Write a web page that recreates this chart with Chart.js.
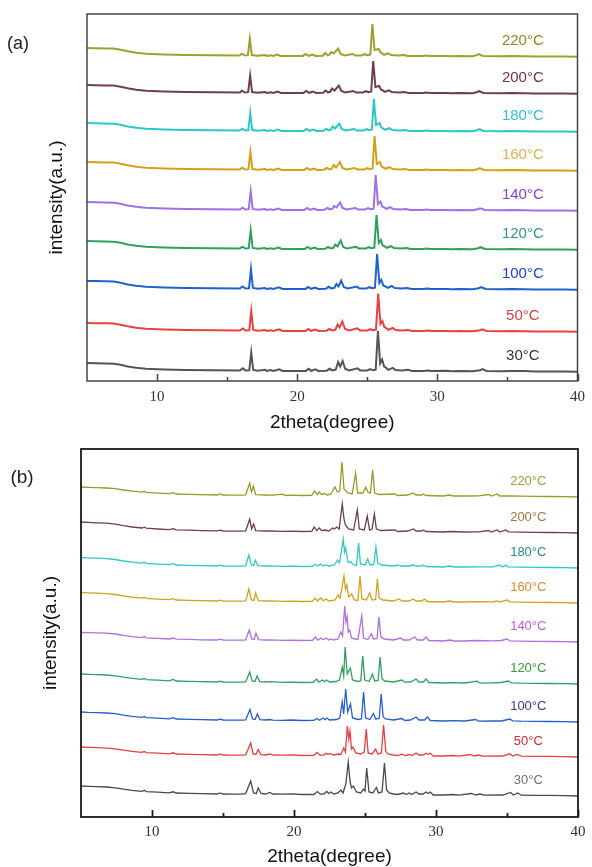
<!DOCTYPE html>
<html>
<head>
<meta charset="utf-8">
<script src="https://cdn.jsdelivr.net/npm/chart.js@4.4.0/dist/chart.umd.min.js"></script>
<style>
  html, body { margin: 0; padding: 0; background: #fff; }
  #wrapA { position: absolute; left: 0; top: 0; width: 592px; height: 440px; }
  #wrapB { position: absolute; left: 0; top: 440px; width: 592px; height: 427px; }
</style>
</head>
<body>
<div id="wrapA"><canvas id="chartA" width="592" height="440"></canvas></div>
<div id="wrapB"><canvas id="chartB" width="592" height="427"></canvas></div>
<script>
// axis ticks
const xTickValues = [10, 20, 30, 40];
const xMinorValues = [15, 25, 35];
const tempLabels = ['30°C', '50°C', '100°C', '120°C', '140°C', '160°C', '180°C', '200°C', '220°C'];

// vertical stacking offsets of each pattern (a.u.)
const offsetsA = [9, 49, 91, 131, 170, 210, 249, 287, 324];
const offsetsB = [21, 60, 95, 133, 175, 214, 249, 284, 320];

// panel (a) patterns: [2theta, intensity]
const patternA30 = [[5,9],[5.6,8.8],[6.3,8.6],[6.9,8.3],[7.4,7.2],[7.9,5.6],[8.5,4.2],[9.2,3.2],[10.5,2.6],[12,2.1],[14,1.7],[15.9,1.4],
  [16.12,3.8],[16.3,1.5],[16.58,1.8],[16.72,19.5],[16.86,2],[17.2,1.2],[17.7,2.2],[17.85,1.1],[18.1,1.9],[18.3,1],[18.72,2.6],[18.95,1.1],[19.8,0.9],[20.6,1.1],[20.82,3.2],[21,1.2],[21.3,2.6],[21.5,1.1],[22.1,1.3],[22.32,3.2],[22.5,1.6],[22.75,2.4],[22.92,10],[23.07,5.5],[23.24,11],[23.42,3.2],[23.7,1.6],[24.32,3.6],[24.5,1.4],[25,1.6],[25.2,3],[25.4,1.7],[25.6,2.4],[25.76,41],[25.92,8.5],[26.06,12.5],[26.2,5.5],[26.32,4.5],[26.5,2.2],[26.82,4.2],[27,2],[27.5,1.6],[27.9,2.2],[28.2,1.1],[29,0.9],[29.3,1.6],[29.6,0.9],[30.7,1.2],[31,0.8],[31.6,1.1],[32.5,0.8],[33.05,1.8],[33.22,2.8],[33.5,1],[34.5,0.7],[35.3,1.1],[36.2,0.9],[37,0.6],[38,0.6],[39,0.4],[40,0.3]];
const patternA50 = [[5,9],[5.6,8.8],[6.3,8.7],[6.9,8.4],[7.4,7.3],[7.9,5.7],[8.5,4.3],[9.2,3.2],[10.5,2.6],[12,2.1],[14,1.7],[15.9,1.4],
  [16.12,3.6],[16.3,1.5],[16.58,1.8],[16.72,21],[16.86,2],[17.2,1.2],[17.7,2],[17.85,1.1],[18.1,1.8],[18.3,1],[18.72,2.6],[18.95,1.1],[19.8,0.9],[20.6,1.1],[20.8,3],[21,1.2],[21.3,2.5],[21.5,1.1],[22.1,1.3],[22.3,3],[22.5,1.6],[22.72,2.2],[22.88,7.5],[23.02,4.5],[23.22,10.5],[23.4,3.2],[23.7,1.6],[24.3,3.6],[24.5,1.4],[25,1.6],[25.2,2.8],[25.4,1.7],[25.62,2.4],[25.78,38.5],[25.94,8],[26.08,11],[26.22,5],[26.34,4],[26.5,2.2],[26.82,4],[27,2],[27.5,1.6],[27.9,2],[28.2,1.1],[29,0.9],[29.3,1.5],[29.6,0.9],[30.7,1.1],[31,0.8],[31.6,1],[32.5,0.8],[33.05,1.8],[33.2,2.6],[33.5,1],[34.5,0.7],[35.3,1],[36.2,0.8],[37,0.6],[38,0.5],[39,0.4],[40,0.3]];
const patternA100 = [[5,9],[5.6,8.9],[6.3,8.7],[6.9,8.4],[7.4,7.2],[7.9,5.6],[8.5,4.2],[9.2,3.2],[10.5,2.6],[12,2.1],[14,1.7],[15.9,1.4],
  [16.1,3.6],[16.3,1.5],[16.56,1.8],[16.7,21],[16.84,2],[17.2,1.2],[17.7,2],[17.85,1.1],[18.1,1.8],[18.3,1],[18.7,2.6],[18.95,1.1],[19.8,0.9],[20.6,1.1],[20.78,3],[21,1.2],[21.28,2.5],[21.5,1.1],[22.05,1.3],[22.25,3.2],[22.45,1.6],[22.65,2.2],[22.8,6],[22.95,3.5],[23.14,9.5],[23.32,3],[23.6,1.6],[24.25,3.4],[24.45,1.4],[24.95,1.6],[25.15,2.8],[25.35,1.7],[25.55,2.4],[25.7,36],[25.86,7],[26,10],[26.14,4.5],[26.28,3.6],[26.45,2.2],[26.75,4],[26.95,2],[27.45,1.6],[27.85,2],[28.15,1.1],[29,0.9],[29.25,1.5],[29.55,0.9],[30.7,1.1],[31,0.8],[31.6,1],[32.5,0.8],[32.95,1.8],[33.12,2.8],[33.45,1],[34.5,0.7],[35.3,1],[36.2,0.8],[37,0.6],[38,0.5],[39,0.4],[40,0.3]];
const patternA120 = [[5,9],[5.6,8.8],[6.3,8.6],[6.9,8.3],[7.4,7.2],[7.9,5.6],[8.5,4.2],[9.2,3.2],[10.5,2.6],[12,2.1],[14,1.7],[15.9,1.4],
  [16.1,3.4],[16.3,1.5],[16.54,1.8],[16.68,19.5],[16.82,2],[17.2,1.2],[17.7,2],[17.85,1.1],[18.1,1.8],[18.3,1],[18.68,2.5],[18.9,1.1],[19.8,0.9],[20.55,1.1],[20.75,3],[20.95,1.2],[21.25,2.4],[21.45,1.1],[22,1.3],[22.2,3],[22.4,1.6],[22.58,2.2],[22.72,5.5],[22.88,3.5],[23.1,9.5],[23.28,3],[23.55,1.6],[24.2,3.2],[24.4,1.4],[24.9,1.6],[25.1,2.8],[25.3,1.7],[25.5,2.4],[25.66,35],[25.82,7],[25.97,10],[26.1,4.5],[26.24,3.6],[26.4,2.2],[26.7,3.8],[26.9,2],[27.4,1.6],[27.8,2],[28.1,1.1],[29,0.9],[29.2,1.5],[29.5,0.9],[30.7,1.1],[31,0.8],[31.6,1],[32.5,0.8],[32.9,1.8],[33.08,2.8],[33.4,1],[34.5,0.7],[35.3,1],[36.2,0.8],[37,0.6],[38,0.5],[39,0.4],[40,0.3]];
const patternA140 = [[5,9],[5.6,8.8],[6.3,8.6],[6.9,8.3],[7.4,7.2],[7.9,5.6],[8.5,4.2],[9.2,3.2],[10.5,2.6],[12,2.1],[14,1.7],[15.9,1.4],
  [16.1,3.4],[16.3,1.5],[16.54,1.8],[16.68,19.5],[16.82,2],[17.2,1.2],[17.7,2],[17.85,1.1],[18.1,1.8],[18.3,1],[18.66,2.5],[18.9,1.1],[19.8,0.9],[20.5,1.1],[20.72,3],[20.92,1.2],[21.22,2.4],[21.42,1.1],[21.95,1.3],[22.15,3],[22.35,1.6],[22.5,2.2],[22.63,5],[22.8,3.5],[23.05,8.5],[23.24,3],[23.5,1.6],[24.15,3],[24.35,1.4],[24.85,1.6],[25.05,2.8],[25.25,1.7],[25.45,2.4],[25.6,36],[25.76,7],[25.94,9.5],[26.06,4.5],[26.2,3.6],[26.35,2.2],[26.65,3.8],[26.85,2],[27.35,1.6],[27.75,2],[28.05,1.1],[29,0.9],[29.2,1.5],[29.5,0.9],[30.7,1.1],[31,0.8],[31.6,1],[32.5,0.8],[32.88,1.8],[33.05,2.8],[33.4,1],[34.5,0.7],[35.3,1],[36.2,0.8],[37,0.6],[38,0.5],[39,0.4],[40,0.3]];
const patternA160 = [[5,9],[5.6,8.8],[6.3,8.6],[6.9,8.4],[7.4,7.3],[7.9,5.7],[8.5,4.3],[9.2,3.2],[10.5,2.6],[12,2.1],[14,1.7],[15.9,1.4],
  [16.08,3.4],[16.28,1.5],[16.52,1.8],[16.66,19],[16.8,2],[17.2,1.2],[17.7,2],[17.85,1.1],[18.1,1.8],[18.3,1],[18.64,2.5],[18.88,1.1],[19.8,0.9],[20.5,1.1],[20.7,3],[20.9,1.2],[21.2,2.4],[21.4,1.1],[21.9,1.3],[22.12,3],[22.32,1.6],[22.47,2.4],[22.6,6],[22.78,3.5],[23.04,9],[23.22,3],[23.5,1.6],[24.1,3],[24.3,1.4],[24.8,1.6],[25,2.8],[25.2,1.7],[25.38,2.4],[25.52,35],[25.68,7],[25.9,9],[26.02,4.5],[26.15,3.6],[26.3,2.2],[26.6,3.8],[26.8,2],[27.3,1.6],[27.7,2],[28,1.1],[29,0.9],[29.2,1.5],[29.5,0.9],[30.7,1.1],[31,0.8],[31.6,1],[32.5,0.8],[32.85,1.8],[33.02,2.8],[33.35,1],[34.5,0.7],[35.3,1],[36.2,0.8],[37,0.6],[38,0.5],[39,0.4],[40,0.3]];
const patternA180 = [[5,9],[5.6,8.8],[6.3,8.6],[6.9,8.3],[7.4,7.2],[7.9,5.6],[8.5,4.2],[9.2,3.2],[10.5,2.6],[12,2.1],[14,1.7],[15.9,1.4],
  [16.08,3.3],[16.28,1.5],[16.51,1.8],[16.65,19],[16.79,2],[17.2,1.2],[17.7,2],[17.85,1.1],[18.1,1.8],[18.3,1],[18.62,2.4],[18.86,1.1],[19.8,0.9],[20.45,1.1],[20.66,3],[20.86,1.2],[21.16,2.4],[21.36,1.1],[21.88,1.3],[22.08,3],[22.28,1.6],[22.4,2.2],[22.52,5.5],[22.7,3.5],[23,8.5],[23.18,3],[23.45,1.6],[24.05,3],[24.25,1.4],[24.75,1.6],[24.95,2.8],[25.15,1.7],[25.33,2.4],[25.47,33],[25.63,7],[25.88,9],[26,4.5],[26.12,3.6],[26.28,2.2],[26.58,3.8],[26.78,2],[27.3,1.6],[27.7,2],[28,1.1],[29,0.9],[29.2,1.5],[29.5,0.9],[30.7,1.1],[31,0.8],[31.6,1],[32.5,0.8],[32.82,1.8],[33,2.8],[33.3,1],[34.5,0.7],[35.3,1],[36.2,0.8],[37,0.6],[38,0.5],[39,0.4],[40,0.3]];
const patternA200 = [[5,9],[5.6,8.8],[6.3,8.6],[6.9,8.4],[7.4,7.3],[7.9,5.7],[8.5,4.3],[9.2,3.2],[10.5,2.6],[12,2.1],[14,1.7],[15.9,1.4],
  [16.06,3.3],[16.26,1.5],[16.5,1.8],[16.64,18.5],[16.78,2],[17.2,1.2],[17.7,2],[17.85,1.1],[18.1,1.8],[18.3,1],[18.6,2.4],[18.84,1.1],[19.8,0.9],[20.45,1.1],[20.64,3],[20.84,1.2],[21.14,2.4],[21.34,1.1],[21.85,1.3],[22.02,3.4],[22.2,1.6],[22.35,2.2],[22.48,5.5],[22.66,3.5],[22.97,8.5],[23.15,3],[23.42,1.6],[24,3],[24.2,1.4],[24.7,1.6],[24.9,2.8],[25.1,1.7],[25.28,2.4],[25.42,33],[25.58,7],[25.85,8],[25.97,4.5],[26.1,3.6],[26.25,2.2],[26.55,3.6],[26.75,2],[27.25,1.6],[27.65,2],[27.95,1.1],[29,0.9],[29.2,1.5],[29.5,0.9],[30.7,1.1],[31,0.8],[31.6,1],[32.5,0.8],[32.8,1.8],[32.98,2.8],[33.3,1],[34.5,0.7],[35.3,1],[36.2,0.8],[37,0.6],[38,0.5],[39,0.4],[40,0.3]];
const patternA220 = [[5,9],[5.6,8.8],[6.3,8.6],[6.9,8.4],[7.4,7.3],[7.9,5.7],[8.5,4.3],[9.2,3.2],[10.5,2.6],[12,2.1],[14,1.7],[15.9,1.4],
  [16.06,3.3],[16.26,1.5],[16.48,1.8],[16.62,18.5],[16.76,2],[17.2,1.2],[17.7,2],[17.85,1.1],[18.1,1.8],[18.3,1],[18.58,2.4],[18.82,1.1],[19.8,0.9],[20.4,1.1],[20.6,3],[20.8,1.2],[21.1,2.4],[21.3,1.1],[21.82,1.3],[22,4],[22.18,1.6],[22.3,2.2],[22.42,5],[22.6,3.5],[22.92,8.5],[23.1,3],[23.38,1.6],[23.95,3],[24.15,1.4],[24.6,1.6],[24.8,2.8],[25,1.7],[25.22,2.4],[25.36,33],[25.52,7],[25.82,8],[25.94,4.5],[26.06,3.6],[26.2,2.2],[26.5,3.6],[26.7,2],[27.2,1.6],[27.6,2],[27.9,1.1],[29,0.9],[29.2,1.5],[29.5,0.9],[30.7,1.1],[31,0.8],[31.6,1],[32.5,0.8],[32.78,1.8],[32.95,2.8],[33.25,1],[34.5,0.7],[35.3,1],[36.2,0.8],[37,0.6],[38,0.5],[39,0.4],[40,0.3]];

// panel (b) patterns: [2theta, intensity]
const patternB30 = [[5,10],[5.5,9.6],[6.1,9.3],[6.8,9],[7.4,8.2],[8,6.8],[8.6,5.6],[9.3,4.6],[9.45,5.8],[9.6,4.4],[10.4,3.8],[11.2,3.2],[11.5,4.2],[11.7,3],[12.6,2.7],[13.5,2.3],[14.6,2],[14.8,3],[15,2],[15.6,1.8],[16.3,1.8],[16.6,2.4],
  [16.95,15],[17.15,3],[17.35,2.5],[17.48,8],[17.68,2.5],[18,2],[18.3,3.5],[18.5,2],[19.2,1.8],[19.9,2.2],[20.5,1.5],[21.4,1.5],[21.65,4.5],[21.85,1.8],[22.1,2],[22.3,4.5],[22.45,2.5],[22.6,4],[22.8,2],[23.1,3],[23.3,6],[23.45,3],[23.65,12],[23.82,34],[23.95,14],[24.05,8],[24.18,10],[24.4,4],[24.7,3],[24.9,7],[25,5],[25.12,28],[25.28,4],[25.55,3],[25.8,8.5],[25.95,3],[26.2,4],[26.37,33],[26.52,6],[26.7,3],[27,2],[27.3,1.5],[27.7,3],[27.9,1.5],[28.1,3],[28.3,1.5],[28.6,4],[28.8,2],[29.1,2],[29.3,4],[29.45,2.5],[29.6,4],[29.8,1],[30.5,1],[31.2,1.5],[31.6,0.8],[32.5,2.5],[32.8,1],[33.1,2],[33.4,0.8],[34.7,1],[35.25,3.5],[35.45,1],[35.75,3],[36,0.8],[37,0.6],[38,0.6],[39,0.4],[40,0]];
const patternB50 = [[5,10],[5.5,9.7],[6.1,9.3],[6.8,8.9],[7.4,8.2],[8,6.9],[8.6,5.6],[9.3,4.6],[9.45,5.6],[9.6,4.4],[10.4,3.8],[11.2,3.2],[11.5,4.2],[11.7,3],[12.6,2.7],[13.5,2.3],[14.6,2],[14.8,3],[15,2],[15.6,1.8],[16.3,1.8],[16.6,2.2],
  [16.95,14],[17.12,3],[17.32,2.5],[17.48,7.5],[17.66,2.4],[18,2],[18.3,3],[18.5,2],[19.2,1.8],[19.9,2.2],[20.5,1.5],[21.4,1.6],[21.62,4.5],[21.82,1.8],[22.1,2],[22.25,3.8],[22.4,2.4],[22.55,3.5],[22.8,2],[23.15,3],[23.3,2.5],[23.5,9],[23.62,5],[23.76,31],[23.86,18],[23.94,26],[24.05,8],[24.16,10],[24.35,4],[24.7,3],[24.95,5],[25.09,28],[25.22,4],[25.5,3],[25.75,8],[25.9,3],[26.15,4],[26.31,32],[26.46,6],[26.6,3],[27,2],[27.3,1.5],[27.6,2.8],[27.85,1.5],[28.1,2.5],[28.3,1.5],[28.6,4],[28.8,2],[29.1,2],[29.3,3.8],[29.45,2.5],[29.58,4],[29.8,1],[30.5,1],[31.2,1.5],[31.6,0.8],[32.4,2.5],[32.7,1],[33,2],[33.3,0.8],[34.7,1],[35.2,3.2],[35.4,1],[35.7,2.5],[36,0.8],[37,0.6],[38,0.6],[39,0.4],[40,0]];
const patternB100 = [[5,10],[5.5,9.6],[6.1,9.4],[6.8,9],[7.4,8.3],[8,6.8],[8.6,5.6],[9.3,4.6],[9.45,5.5],[9.6,4.4],[10.4,3.8],[11.2,3.2],[11.5,4.4],[11.7,3],[12.6,2.7],[13.5,2.3],[14.6,2],[14.8,2.8],[15,2],[15.6,1.8],[16.3,1.8],[16.6,2.2],
  [16.9,12.5],[17.08,3],[17.26,2.5],[17.42,8],[17.6,2.4],[18,2],[18.3,2.5],[18.5,1.8],[19.2,1.6],[19.8,2],[20.5,1.5],[21.4,1.6],[21.6,3.5],[21.8,1.8],[22.05,4],[22.18,2.4],[22.32,4],[22.5,2],[23,2.5],[23.22,4],[23.4,20],[23.5,8],[23.64,33],[23.78,10],[23.98,18],[24.12,4],[24.5,2.5],[24.75,3],[24.9,30],[25.04,4],[25.35,2.5],[25.59,8.5],[25.75,3],[26,3.5],[26.14,28],[26.28,5],[26.45,3],[27,2],[27.6,3.5],[27.8,1.5],[28.2,2],[28.6,5],[28.8,2],[29.2,2],[29.4,5],[29.6,1.5],[30.5,1],[31.2,1.3],[32,1],[32.8,2.5],[33,0.8],[34,1.2],[34.6,1],[35.2,3],[35.4,1.2],[36,0.8],[37,0.6],[38,0.5],[39,0.4],[40,0]];
const patternB120 = [[5,10],[5.5,9.6],[6.1,9.3],[6.8,9],[7.4,8.2],[8,6.8],[8.6,5.6],[9.3,4.6],[9.45,5.5],[9.6,4.4],[10.4,3.8],[11.2,3.2],[11.5,4.6],[11.7,3],[12.6,2.7],[13.5,2.3],[14.6,2],[14.8,2.8],[15,2],[15.6,1.8],[16.3,1.8],[16.6,2.2],
  [16.88,12],[17.05,3],[17.25,2.5],[17.4,8],[17.58,2.4],[18,2],[18.3,2.3],[19.2,1.6],[19.8,1.9],[20.5,1.5],[21.35,1.6],[21.58,5],[21.76,1.8],[22,4],[22.15,2.4],[22.3,4],[22.5,2],[22.95,2.5],[23.2,4],[23.4,17],[23.5,8],[23.6,37],[23.75,10],[23.97,16],[24.12,4],[24.5,2.5],[24.7,3],[24.84,28],[24.98,4],[25.3,2.5],[25.52,10],[25.68,3],[25.92,3.5],[26.06,27],[26.2,5],[26.4,3],[27,2],[27.6,4],[27.8,1.8],[28.2,2],[28.6,5],[28.8,2],[29.1,2],[29.3,5],[29.5,1.5],[30.5,1],[31.2,1.3],[32,1],[32.9,2.8],[33.1,0.8],[34,1.2],[34.6,1.5],[35.1,3],[35.3,1.2],[36,0.8],[37,0.6],[38,0.5],[39,0.4],[40,0]];
const patternB140 = [[5,9.5],[5.5,9.3],[6.1,9.1],[6.8,8.8],[7.4,8],[8,6.6],[8.6,5.4],[9.3,4.4],[9.45,5.4],[9.6,4.2],[10.4,3.6],[11.2,3],[11.5,4],[11.7,2.8],[12.6,2.6],[13.5,2.2],[14.6,2],[14.8,2.8],[15,2],[15.6,1.8],[16.3,1.8],[16.6,2.2],
  [16.85,12],[17.02,3],[17.2,2.5],[17.32,9],[17.5,2.4],[18,2],[18.3,2.2],[19.2,1.6],[19.8,1.9],[20.5,1.5],[21.3,1.6],[21.5,5],[21.7,1.8],[21.9,4],[22.05,2.2],[22.28,4],[22.45,2],[22.6,3],[22.8,2],[23.1,3],[23.29,10],[23.42,6],[23.57,36],[23.66,20],[23.74,25],[23.82,10],[23.92,12],[24.05,4],[24.3,3],[24.5,2.5],[24.77,26],[24.9,4],[25.2,2.5],[25.45,8],[25.6,3],[25.85,3.5],[25.98,25],[26.12,5],[26.35,3],[27,2],[27.5,4],[27.7,2],[28.1,2],[28.5,5],[28.7,2],[29.1,2],[29.3,5],[29.5,1.5],[30.5,1],[31,2],[31.3,1],[32,1],[32.9,1.5],[34,1.2],[34.6,1.5],[35,3],[35.2,1.2],[36,0.8],[37,0.6],[38,0.5],[39,0.4],[40,0]];
const patternB160 = [[5,10.5],[5.5,10.2],[6.1,9.8],[6.8,9.4],[7.4,8.5],[8,7],[8.6,5.8],[9.3,4.8],[9.45,5.8],[9.6,4.6],[10.4,3.9],[11.2,3.3],[11.5,4.3],[11.7,3],[12.6,2.7],[13.5,2.3],[14.6,2],[14.8,2.8],[15,2],[15.6,1.8],[16.3,1.8],[16.6,2.2],
  [16.82,14],[17,3],[17.18,2.5],[17.3,10],[17.48,2.4],[18,2],[18.3,2.2],[19.2,1.6],[19.8,1.8],[20.5,1.5],[21.3,1.6],[21.48,5],[21.66,2],[21.88,5],[22.05,2.4],[22.28,4],[22.45,2],[22.9,3],[23.1,8],[23.25,5],[23.52,27],[23.62,14],[23.72,18],[23.85,6],[24.06,9],[24.25,3],[24.5,2.5],[24.65,27],[24.78,4],[25.1,3],[25.33,10],[25.5,3],[25.75,3.5],[25.87,24],[26,5],[26.25,3],[27,2],[27.4,4],[27.6,2],[28.1,2],[28.4,4],[28.6,2],[29,2],[29.2,4],[29.4,1.5],[30.5,1],[31,2],[31.3,1],[32,1],[32.8,1.3],[34,1.2],[34.3,2],[34.5,1],[35,3],[35.2,1.2],[36,0.8],[37,0.6],[38,0.5],[39,0.4],[40,0]];
const patternB180 = [[5,10.5],[5.5,10.2],[6.1,9.8],[6.8,9.4],[7.4,8.5],[8,7],[8.6,5.8],[9.3,4.8],[9.45,5.8],[9.6,4.6],[10.4,3.9],[11.2,3.3],[11.5,4.3],[11.7,3],[12.6,2.7],[13.5,2.3],[14.6,2],[14.8,2.8],[15,2],[15.6,1.8],[16.3,1.8],[16.6,2.2],
  [16.82,13],[17,3],[17.15,2.5],[17.27,8],[17.45,2.4],[18,2],[18.3,2.2],[19.2,1.6],[19.8,1.8],[20.5,1.5],[21.3,1.6],[21.48,4],[21.66,2],[21.88,4],[22.05,2.2],[22.28,3],[22.45,2],[22.85,3],[23.07,8],[23.2,5],[23.47,29],[23.56,16],[23.64,20],[23.8,6],[24,6],[24.2,3],[24.4,2.5],[24.55,25],[24.68,4],[25,3],[25.19,9],[25.35,3],[25.62,3.5],[25.77,21],[25.9,5],[26.15,3],[27,2],[27.3,3],[27.5,2],[28.1,2],[28.4,3],[28.6,2],[29,2],[29.1,3],[29.3,1.5],[30.5,1],[31,2],[31.3,1],[32,1],[33,1.2],[34,1.2],[34.5,3],[34.7,1],[34.9,3],[35.1,1.2],[36,0.8],[37,0.6],[38,0.5],[39,0.4],[40,0]];
const patternB200 = [[5,11],[5.5,10.6],[6.1,10.2],[6.8,9.8],[7.4,8.8],[8,7.3],[8.6,6],[9.3,5],[9.45,5.8],[9.6,4.8],[10.4,4],[11.2,3.4],[11.5,4.4],[11.7,3.1],[12.6,2.8],[13.5,2.4],[14.6,2.1],[14.8,2.8],[15,2],[15.6,1.8],[16.3,1.8],[16.6,2.2],
  [16.88,14],[17.02,4],[17.16,9],[17.3,2.4],[18,2],[18.3,2],[19.2,1.6],[19.8,1.8],[20.5,1.5],[21.25,1.6],[21.42,6],[21.6,2.4],[21.78,5],[21.95,2.4],[22.2,3],[22.45,2],[22.72,5],[22.85,4],[23,6],[23.18,4],[23.4,29],[23.52,14],[23.62,8],[23.85,4],[24.2,3],[24.46,23],[24.6,4],[24.95,3],[25.16,17],[25.32,3],[25.5,4],[25.66,19],[25.8,4],[26.1,2.5],[27.1,3],[27.3,1.5],[28,2],[28.4,4],[28.6,2],[29,2],[29.1,3],[29.3,1.5],[30.5,1],[31,1.5],[32,1],[33,1.2],[33.7,2.5],[33.9,1],[34.3,3],[34.5,1],[34.9,3],[35.1,1.2],[36,0.8],[37,0.6],[38,0.5],[39,0.4],[40,0]];
const patternB220 = [[5,10],[5.5,9.7],[6.1,9.4],[6.8,9],[7.4,8.3],[8,7],[8.6,5.8],[9.3,4.8],[9.45,5.8],[9.6,4.6],[10.4,3.9],[11.2,3.3],[11.5,4.3],[11.7,3],[12.6,2.7],[13.5,2.3],[14.6,2],[14.8,3],[15,2],[15.6,1.8],[16.3,1.8],[16.6,2.2],
  [16.88,14],[17,5],[17.14,11],[17.3,2.4],[18,2],[18.5,1.8],[19.2,2.8],[19.4,1.5],[19.8,1.8],[20.5,1.5],[21.25,1.6],[21.46,6],[21.62,2.4],[21.78,5],[21.95,2.4],[22.12,3.5],[22.35,2],[22.6,3],[22.88,10],[23.05,5],[23.22,6],[23.38,35],[23.52,8],[23.8,4],[24.1,3],[24.34,24],[24.48,4],[24.85,4],[25.05,10],[25.2,5],[25.38,4],[25.54,27],[25.68,4],[26,2.5],[27.1,3],[27.3,1.5],[28,2],[28.4,4],[28.6,2],[29,2],[29.1,3],[29.3,1.5],[30.5,1],[30.95,2],[31.2,1],[32,1],[33,1.2],[33.7,2.5],[33.9,1],[34.3,3],[34.5,1],[35,1.2],[36,0.8],[37,0.6],[38,0.5],[39,0.4],[40,0]];

const patternsA = [patternA30, patternA50, patternA100, patternA120, patternA140, patternA160, patternA180, patternA200, patternA220];
const patternsB = [patternB30, patternB50, patternB100, patternB120, patternB140, patternB160, patternB180, patternB200, patternB220];

const lineColorsA = ['#555555', '#e8413f', '#2060d0', '#30a060', '#a070e8', '#d4a017', '#2cc8c8', '#704048', '#a0a030'];
const labelColorsA = ['#333333', '#e03c3c', '#2040e0', '#2a9a80', '#8a3ee0', '#e0b050', '#30c0d0', '#7a2f4a', '#8a8a20'];
const lineColorsB = ['#4a4a4a', '#e84040', '#2460d0', '#30a060', '#b070e0', '#d4a020', '#30c8c8', '#6e4048', '#9a9a28'];
const labelColorsB = ['#707070', '#e02828', '#3a3a9a', '#30a030', '#c060d8', '#e08a30', '#2a8a8a', '#a07840', '#a0a040'];

// frame, inward ticks and curve labels
const framePlugin = {
  id: 'frame',
  afterDatasetsDraw(chart, args, o) {
    const { ctx, chartArea: a, scales: { x, y } } = chart;
    ctx.save();
    ctx.strokeStyle = o.color;
    ctx.lineWidth = o.width;
    ctx.strokeRect(a.left, a.top, a.right - a.left, a.bottom - a.top);
    ctx.beginPath();
    xTickValues.forEach(v => {
      const px = Math.round(x.getPixelForValue(v)) + 0.5;
      ctx.moveTo(px, a.bottom); ctx.lineTo(px, a.bottom - o.major);
    });
    xMinorValues.forEach(v => {
      const px = Math.round(x.getPixelForValue(v)) + 0.5;
      ctx.moveTo(px, a.bottom); ctx.lineTo(px, a.bottom - o.minor);
    });
    ctx.stroke();

    ctx.textAlign = 'center';
    ctx.textBaseline = 'middle';
    ctx.font = o.labelFont;
    tempLabels.forEach((t, i) => {
      ctx.fillStyle = o.labelColors[i];
      ctx.fillText(t, x.getPixelForValue(o.labelX), y.getPixelForValue(o.offsets[i] + o.labelRise));
    });
    ctx.fillStyle = '#222';
    ctx.font = o.tagFont;
    ctx.fillText(o.tag, o.tagX, o.tagY);
    ctx.restore();
  }
};

function makeChart(id, patterns, offsets, lineColors, cfg) {
  const datasets = patterns.map((pts, i) => ({
    label: tempLabels[i],
    data: pts.map(p => ({ x: p[0], y: p[1] + offsets[i] })),
    borderColor: lineColors[i],
    borderWidth: cfg.lineWidth,
    pointRadius: 0,
    tension: 0,
    fill: false
  }));
  return new Chart(document.getElementById(id), {
    type: 'line',
    data: { datasets },
    plugins: [framePlugin],
    options: {
      responsive: false,
      animation: false,
      layout: { padding: cfg.padding },
      plugins: {
        legend: { display: false },
        tooltip: { enabled: false },
        frame: {
          color: cfg.frameColor, width: cfg.frameWidth, major: 7, minor: 4,
          labelColors: cfg.labelColors, labelFont: cfg.labelFont, labelX: cfg.labelX, labelRise: 16,
          offsets, tag: cfg.tag, tagFont: cfg.tagFont, tagX: cfg.tagX, tagY: cfg.tagY
        }
      },
      scales: {
        x: {
          type: 'linear', min: 5, max: 40,
          afterBuildTicks: s => { s.ticks = xTickValues.map(v => ({ value: v })); },
          afterFit: s => { s.height = cfg.xHeight; },
          grid: { display: false, drawTicks: false },
          border: { display: false },
          ticks: { font: { family: 'Liberation Serif', size: 15 }, color: '#333', padding: cfg.tickPad, maxRotation: 0, autoSkip: false },
          title: { display: true, text: '2theta(degree)', color: '#111', font: { family: 'Liberation Sans', size: 19, lineHeight: 1.2 }, padding: { top: 0, bottom: cfg.xTitlePad } }
        },
        y: {
          type: 'linear', min: 0, max: cfg.yMax,
          afterFit: s => { s.width = cfg.yWidth; },
          grid: { display: false, drawTicks: false },
          border: { display: false },
          ticks: { display: false },
          title: { display: true, text: 'intensity(a.u.)', color: '#111', font: { family: 'Liberation Sans', size: 19, lineHeight: 1.2 }, padding: { top: cfg.yTitlePad, bottom: 0 } }
        }
      }
    }
  });
}

makeChart('chartA', patternsA, offsetsA, lineColorsA, {
  lineWidth: 2, padding: { left: 0, right: 8, top: 14, bottom: 0 },
  xHeight: 59, yWidth: 87, yMax: 367, tickPad: 7, xTitlePad: 6, yTitlePad: 45,
  frameColor: '#444', frameWidth: 1.5, labelColors: labelColorsA, labelFont: '15px "Liberation Sans"', labelX: 36.1,
  tag: '(a)', tagFont: '18px "Liberation Sans"', tagX: 18, tagY: 44
});

makeChart('chartB', patternsB, offsetsB, lineColorsB, {
  lineWidth: 1.3, padding: { left: 0, right: 14, top: 9, bottom: 0 },
  xHeight: 50, yWidth: 81, yMax: 368, tickPad: 6, xTitlePad: -1, yTitlePad: 39,
  frameColor: '#1a1a1a', frameWidth: 1.8, labelColors: labelColorsB, labelFont: '13px "Liberation Sans"', labelX: 36.5,
  tag: '(b)', tagFont: '19px "Liberation Sans"', tagX: 22, tagY: 38
});
</script>
</body>
</html>
